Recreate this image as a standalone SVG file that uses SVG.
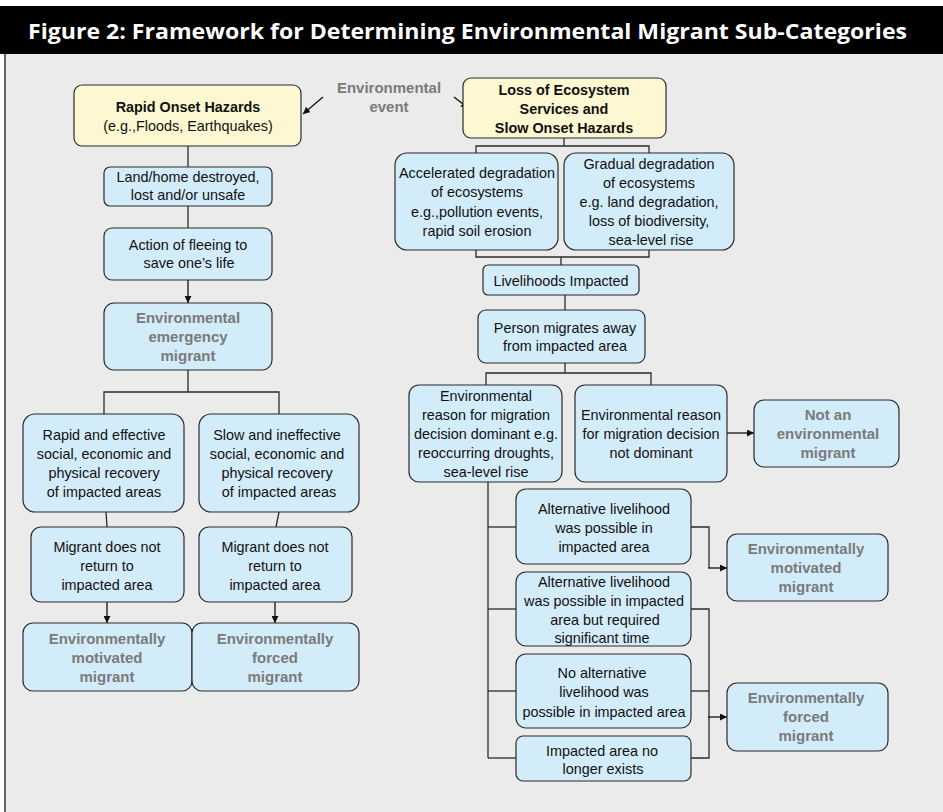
<svg xmlns="http://www.w3.org/2000/svg" width="943" height="812" viewBox="0 0 943 812">
<defs>
<style>
.bx{fill:#d3ecf9;stroke:#2b2b2b;stroke-width:1.2}
.yl{fill:#fdf8d1;stroke:#2b2b2b;stroke-width:1.2}
.t{font-family:"Liberation Sans",Arial,sans-serif;font-size:14.4px;fill:#111;text-anchor:middle}
.b{font-family:"Liberation Sans",Arial,sans-serif;font-size:14.4px;font-weight:bold;fill:#111;text-anchor:middle}
.g{font-family:"Liberation Sans",Arial,sans-serif;font-size:15px;font-weight:bold;fill:#7a7a7a;text-anchor:middle}
.c{fill:none;stroke:#2b2b2b;stroke-width:1.3}
.a{fill:none;stroke:#111;stroke-width:1.3;marker-end:url(#ah)}
</style>
<marker id="ah" viewBox="0 0 10 10" refX="10" refY="5" markerWidth="7" markerHeight="7" markerUnits="userSpaceOnUse" orient="auto">
<path d="M0,0 L10,5 L0,10 z" fill="#111"/>
</marker>
</defs>
<rect x="0" y="0" width="943" height="812" fill="#ffffff"/>
<rect x="4" y="54" width="939" height="758" fill="#ebebeb"/>
<line x1="5" y1="54" x2="5" y2="812" stroke="#444" stroke-width="1.6"/>
<rect x="0" y="6" width="943" height="48" fill="#000"/>
<text x="28" y="39" font-family="Open Sans,Liberation Sans,sans-serif" font-weight="bold" font-size="20.5" fill="#fff" textLength="879" lengthAdjust="spacingAndGlyphs">Figure 2: Framework for Determining Environmental Migrant Sub-Categories</text>

<g id="connectors">
<line class="a" x1="323" y1="97" x2="303" y2="114"/>
<line class="a" x1="454" y1="97" x2="468" y2="108"/>
<line class="c" x1="188" y1="146" x2="188" y2="167"/>
<line class="c" x1="188" y1="206" x2="188" y2="228"/>
<line class="a" x1="188" y1="280" x2="188" y2="303"/>
<line class="c" x1="188" y1="370" x2="188" y2="392" stroke-width="2.2"/>
<polyline class="c" points="104,414 104,392 279,392 279,414"/>
<line class="c" x1="106" y1="512" x2="107" y2="527"/>
<line class="c" x1="279" y1="512" x2="276" y2="527"/>
<line class="a" x1="107" y1="602" x2="107" y2="623"/>
<line class="a" x1="275" y1="602" x2="275" y2="623"/>

<line class="c" x1="564" y1="138" x2="564" y2="146"/>
<polyline class="c" points="476,153 476,146 649,146 649,153"/>
<polyline class="c" points="476,250 476,257 649,257 649,250"/>
<line class="c" x1="561" y1="257" x2="561" y2="265"/>
<line class="c" x1="565" y1="295" x2="565" y2="310"/>
<line class="c" x1="565" y1="363" x2="565" y2="373"/>
<polyline class="c" points="486,385 486,373 651,373 651,385"/>
<line class="a" x1="727" y1="433" x2="754" y2="433"/>
<line class="c" x1="488" y1="482" x2="488" y2="691" stroke-width="2"/>
<line class="c" x1="488" y1="691" x2="488" y2="758"/>
<line class="c" x1="488" y1="527" x2="516" y2="527"/>
<line class="c" x1="488" y1="609" x2="516" y2="609"/>
<line class="c" x1="488" y1="691" x2="516" y2="691"/>
<line class="c" x1="488" y1="758" x2="516" y2="758"/>
<polyline class="c" points="691,527 709,527 709,568"/>
<line class="a" x1="708" y1="568" x2="727" y2="568"/>
<polyline class="c" points="691,609 709,609 709,758 691,758"/>
<line class="c" x1="691" y1="691" x2="709" y2="691"/>
<line class="a" x1="708" y1="717" x2="727" y2="717"/>
</g>

<g id="rapid-onset">
<rect class="yl" x="74" y="85" width="227" height="61" rx="8"/>
<text class="b" x="188" y="112" font-size="15">Rapid Onset Hazards</text>
<text class="t" x="188" y="131">(e.g.,Floods, Earthquakes)</text>
</g>
<g id="env-event">
<text class="g" x="389" y="93" font-size="14.4">Environmental</text>
<text class="g" x="389" y="112" font-size="14.4">event</text>
</g>
<g id="loss-ecosystem">
<rect class="yl" x="463" y="78" width="203" height="60" rx="8"/>
<text class="b" x="564" y="95">Loss of Ecosystem</text>
<text class="b" x="564" y="114">Services and</text>
<text class="b" x="564" y="133">Slow Onset Hazards</text>
</g>
<g id="land-home">
<rect class="bx" x="104" y="167" width="168" height="39" rx="6"/>
<text class="t" x="188" y="182">Land/home destroyed,</text>
<text class="t" x="188" y="200">lost and/or unsafe</text>
</g>
<g id="fleeing">
<rect class="bx" x="104" y="228" width="168" height="52" rx="8"/>
<text class="t" x="188" y="250">Action of fleeing to</text>
<text class="t" x="189" y="268">save one’s life</text>
</g>
<g id="emergency-migrant">
<rect class="bx" x="104" y="303" width="168" height="67" rx="10"/>
<text class="g" x="188" y="323">Environmental</text>
<text class="g" x="188" y="342">emergency</text>
<text class="g" x="188" y="361">migrant</text>
</g>
<g id="rapid-recovery">
<rect class="bx" x="23" y="414" width="161" height="98" rx="12"/>
<text class="t" x="104" y="440">Rapid and effective</text>
<text class="t" x="104" y="459">social, economic and</text>
<text class="t" x="104" y="478">physical recovery</text>
<text class="t" x="104" y="497">of impacted areas</text>
</g>
<g id="slow-recovery">
<rect class="bx" x="199" y="414" width="160" height="98" rx="12"/>
<text class="t" x="277" y="440">Slow and ineffective</text>
<text class="t" x="277" y="459">social, economic and</text>
<text class="t" x="277" y="478">physical recovery</text>
<text class="t" x="279" y="497">of impacted areas</text>
</g>
<g id="no-return-left">
<rect class="bx" x="31" y="527" width="153" height="75" rx="10"/>
<text class="t" x="107" y="552">Migrant does not</text>
<text class="t" x="107" y="571">return to</text>
<text class="t" x="107" y="590">impacted area</text>
</g>
<g id="no-return-right">
<rect class="bx" x="199" y="527" width="153" height="75" rx="10"/>
<text class="t" x="275" y="552">Migrant does not</text>
<text class="t" x="275" y="571">return to</text>
<text class="t" x="275" y="590">impacted area</text>
</g>
<g id="motivated-left">
<rect class="bx" x="23" y="623" width="169" height="68" rx="10"/>
<text class="g" x="107" y="644">Environmentally</text>
<text class="g" x="107" y="663">motivated</text>
<text class="g" x="107" y="682">migrant</text>
</g>
<g id="forced-left">
<rect class="bx" x="192" y="623" width="167" height="68" rx="10"/>
<text class="g" x="275" y="644">Environmentally</text>
<text class="g" x="275" y="663">forced</text>
<text class="g" x="275" y="682">migrant</text>
</g>

<g id="accelerated">
<rect class="bx" x="395" y="153" width="163" height="97" rx="12"/>
<text class="t" x="477" y="178">Accelerated degradation</text>
<text class="t" x="477" y="197">of ecosystems</text>
<text class="t" x="477" y="217">e.g.,pollution events,</text>
<text class="t" x="477" y="236">rapid soil erosion</text>
</g>
<g id="gradual">
<rect class="bx" x="564" y="153" width="170" height="97" rx="12"/>
<text class="t" x="649" y="169">Gradual degradation</text>
<text class="t" x="649" y="188">of ecosystems</text>
<text class="t" x="649" y="207">e.g. land degradation,</text>
<text class="t" x="649" y="226">loss of biodiversity,</text>
<text class="t" x="651" y="245">sea-level rise</text>
</g>
<g id="livelihoods">
<rect class="bx" x="483" y="265" width="156" height="30" rx="5"/>
<text class="t" x="561" y="286">Livelihoods Impacted</text>
</g>
<g id="person-migrates">
<rect class="bx" x="478" y="310" width="167" height="53" rx="8"/>
<text class="t" x="565" y="333">Person migrates away</text>
<text class="t" x="565" y="351">from impacted area</text>
</g>
<g id="reason-dominant">
<rect class="bx" x="409" y="385" width="153" height="97" rx="10"/>
<text class="t" x="486" y="401">Environmental</text>
<text class="t" x="486" y="420">reason for migration</text>
<text class="t" x="486" y="439">decision dominant e.g.</text>
<text class="t" x="486" y="458">reoccurring droughts,</text>
<text class="t" x="486" y="477">sea-level rise</text>
</g>
<g id="reason-not-dominant">
<rect class="bx" x="575" y="385" width="152" height="97" rx="10"/>
<text class="t" x="651" y="420">Environmental reason</text>
<text class="t" x="651" y="439">for migration decision</text>
<text class="t" x="651" y="458">not dominant</text>
</g>
<g id="not-env-migrant">
<rect class="bx" x="754" y="400" width="145" height="67" rx="10"/>
<text class="g" x="828" y="420">Not an</text>
<text class="g" x="828" y="439">environmental</text>
<text class="g" x="828" y="458">migrant</text>
</g>
<g id="alt-possible">
<rect class="bx" x="516" y="489" width="175" height="75" rx="10"/>
<text class="t" x="604" y="514">Alternative livelihood</text>
<text class="t" x="604" y="533">was possible in</text>
<text class="t" x="604" y="552">impacted area</text>
</g>
<g id="alt-time">
<rect class="bx" x="516" y="572" width="175" height="74" rx="10"/>
<text class="t" x="604" y="587">Alternative livelihood</text>
<text class="t" x="604" y="606">was possible in impacted</text>
<text class="t" x="605" y="625">area but required</text>
<text class="t" x="602" y="643">significant time</text>
</g>
<g id="no-alt">
<rect class="bx" x="516" y="654" width="175" height="74" rx="10"/>
<text class="t" x="602" y="678">No alternative</text>
<text class="t" x="604" y="697">livelihood was</text>
<text class="t" x="604" y="717">possible in impacted area</text>
</g>
<g id="area-gone">
<rect class="bx" x="516" y="736" width="175" height="45" rx="7"/>
<text class="t" x="602" y="756">Impacted area no</text>
<text class="t" x="603" y="774">longer exists</text>
</g>
<g id="motivated-right">
<rect class="bx" x="727" y="534" width="161" height="67" rx="10"/>
<text class="g" x="806" y="554">Environmentally</text>
<text class="g" x="806" y="573">motivated</text>
<text class="g" x="806" y="592">migrant</text>
</g>
<g id="forced-right">
<rect class="bx" x="727" y="683" width="161" height="68" rx="10"/>
<text class="g" x="806" y="703">Environmentally</text>
<text class="g" x="806" y="722">forced</text>
<text class="g" x="806" y="741">migrant</text>
</g>
</svg>
